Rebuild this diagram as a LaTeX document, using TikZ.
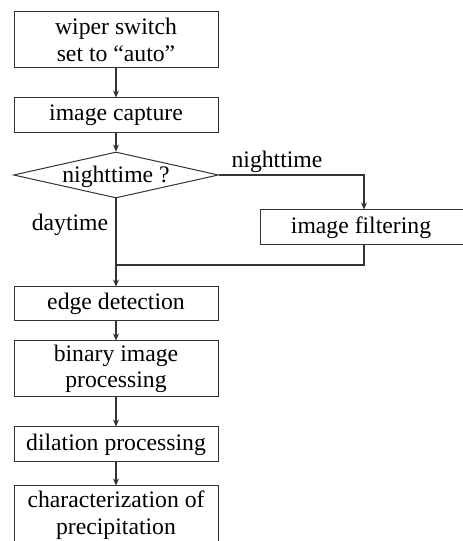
\documentclass[tikz,border=0pt]{standalone}
\usepackage{fontspec}
\setmainfont{Liberation Serif}
\usetikzlibrary{shapes.geometric,arrows.meta}
\definecolor{ink}{gray}{0.2}
\begin{document}
\begin{tikzpicture}[x=1pt,y=1pt,
  every node/.style={font=\fontsize{23.7}{26.5}\selectfont, text=black},
  stepbox/.style={draw=ink, line width=1pt, rectangle, minimum width=204pt, inner sep=0pt, align=center},
  conn/.style={draw=ink, line width=1.1pt, -{Stealth[length=7pt,width=6pt]}},
  plain/.style={draw=ink, line width=1.1pt}]
\useasboundingbox (0,0) rectangle (463,541);
\node[stepbox, minimum height=56pt] (wiper) at (116,501) {wiper switch\\set to ``auto''};
\node[stepbox, minimum height=35pt] (capture) at (116,425.5) {image capture};
\node[diamond, draw=ink, line width=1pt, minimum width=205pt, minimum height=46pt, aspect=4.46, inner sep=0pt] (night) at (116,366) {};
\node (nighttext) at (116,364) {nighttime ?};
\node[stepbox, minimum width=208pt, minimum height=35pt] (filter) at (364,313.5) {\hspace*{-6pt}image filtering};
\node[stepbox, minimum height=34pt] (edge) at (116,237) {edge detection};
\node[stepbox, minimum height=56pt] (binary) at (116,172) {binary image\\processing};
\node[stepbox, minimum height=35pt] (dilation) at (116,96.5) {dilation processing};
\node[stepbox, minimum height=58pt] (charac) at (116,26) {characterization of\\precipitation};
\node (lnight) at (277,379) {nighttime};
\node (lday) at (70,316) {daytime};
\coordinate (join) at (116,276);
\draw[conn] (wiper) -- (capture);
\draw[conn] (capture) -- (night);
\draw[conn] (night.east) -| (filter.north);
\draw[plain] (filter.south) |- (join);
\draw[conn] (night.south) -- (edge.north);
\draw[conn] (edge) -- (binary);
\draw[conn] (binary) -- (dilation);
\draw[conn] (dilation) -- (charac);
\end{tikzpicture}
\end{document}
